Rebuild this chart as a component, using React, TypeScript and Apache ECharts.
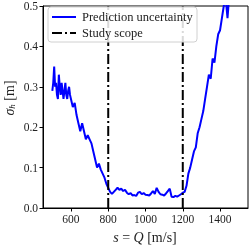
import React, { useEffect, useRef } from "react";
import * as echarts from "echarts";

const speeds = [
  500, 505, 510, 515, 520, 525, 530, 535, 540, 545,
  550, 555, 560, 565, 570, 575, 580, 585, 590, 595,
  600, 610, 620, 630, 640, 650, 660, 670, 680, 690,
  700, 710, 720, 730, 740, 750, 760, 770, 780, 790,
  800, 810, 820, 830, 840, 850, 860, 870, 880, 890,
  900, 910, 920, 930, 940, 950, 960, 970, 980, 990,
  1000, 1010, 1020, 1030, 1040, 1050, 1060, 1070, 1080, 1090,
  1100, 1110, 1120, 1130, 1140, 1150, 1160, 1170, 1180, 1190,
  1200, 1210, 1220, 1230, 1240, 1250, 1260, 1270, 1280, 1290,
  1300, 1310, 1320, 1330, 1340, 1350, 1360, 1370, 1380, 1390,
  1400, 1410, 1420, 1430, 1440, 1450, 1460, 1470, 1480, 1490, 1500,
];
const uncertainty = [
  0.29, 0.31, 0.35, 0.30, 0.31, 0.28, 0.27, 0.33, 0.30, 0.28,
  0.31, 0.29, 0.27, 0.29, 0.31, 0.28, 0.27, 0.29, 0.30, 0.28,
  0.27, 0.25, 0.26, 0.23, 0.21, 0.19, 0.21, 0.19, 0.17, 0.18,
  0.17, 0.16, 0.14, 0.12, 0.10, 0.11, 0.095, 0.085, 0.075, 0.06,
  0.05, 0.04, 0.035, 0.04, 0.045, 0.05, 0.045, 0.048, 0.042, 0.045,
  0.038, 0.034, 0.037, 0.031, 0.032, 0.03, 0.038, 0.04, 0.034, 0.037,
  0.033, 0.032, 0.031, 0.036, 0.042, 0.035, 0.05, 0.04, 0.034, 0.033,
  0.031, 0.036, 0.042, 0.048, 0.028, 0.027, 0.03, 0.028, 0.031, 0.034,
  0.038, 0.04, 0.055, 0.085, 0.10, 0.12, 0.14, 0.15, 0.185, 0.2,
  0.22, 0.24, 0.27, 0.3, 0.33, 0.32, 0.37, 0.36, 0.4, 0.43,
  0.44, 0.47, 0.5, 0.52, 0.47, 0.53, 0.57, 0.6, 0.62, 0.65, 0.68,
];
const scopeBounds = [800, 1200];
const xTicks = [600, 800, 1000, 1200, 1400];
const seriesNames = ["Prediction uncertainty", "Study scope"];

const FONT = "'Liberation Serif', 'DejaVu Serif', serif";

export default function App() {
  const ref = useRef<HTMLDivElement>(null);
  useEffect(() => {
    if (!ref.current) return;
    const chart = echarts.init(ref.current, null, { renderer: "svg" });
    const scopeSeries = scopeBounds.map((b) => ({
      name: seriesNames[1],
      type: "line",
      data: [
        [b, 0],
        [b, 0.5],
      ],
      symbol: "none",
      lineStyle: { color: "#000", width: 2, type: [10, 3, 2, 3] },
      z: 3,
    }));
    chart.setOption({
      animation: false,
      textStyle: { fontFamily: FONT },
      grid: {
        left: 43,
        right: 1,
        top: 4,
        bottom: 38,
        show: true,
        borderColor: "#000",
        borderWidth: 1,
        backgroundColor: "transparent",
      },
      xAxis: {
        type: "value",
        min: 450,
        max: 1550,
        axisLine: { show: true, lineStyle: { color: "#000", width: 1 } },
        axisTick: { show: true, length: 3.5, customValues: xTicks, lineStyle: { color: "#000" } },
        axisLabel: {
          customValues: xTicks,
          color: "#222",
          fontFamily: FONT,
          fontSize: 11.5,
          margin: 5,
          formatter: (v: number) => String(v),
        },
        splitLine: { show: false },
      },
      yAxis: {
        type: "value",
        min: 0,
        max: 0.5,
        interval: 0.1,
        axisLine: { show: true, lineStyle: { color: "#000", width: 1 } },
        axisTick: { show: true, length: 3.5, lineStyle: { color: "#000" } },
        axisLabel: {
          color: "#222",
          fontFamily: FONT,
          fontSize: 11.5,
          margin: 5,
          formatter: (v: number) => v.toFixed(1),
        },
        splitLine: { show: false },
      },
      series: [
        {
          name: seriesNames[0],
          type: "line",
          data: speeds.map((s, i) => [s, uncertainty[i]]),
          symbol: "none",
          clip: true,
          lineStyle: { color: "#0000ff", width: 2 },
          z: 2,
        },
        ...scopeSeries,
      ],
      graphic: [
        {
          type: "rect",
          shape: { x: 48, y: 7, width: 149, height: 35, r: 3 },
          style: { fill: "rgba(255,255,255,0.85)", stroke: "#d0d0d0", lineWidth: 1 },
          z: 100,
        },
        {
          type: "line",
          shape: { x1: 52, y1: 17, x2: 76, y2: 17 },
          style: { stroke: "#0000ff", lineWidth: 2 },
          z: 101,
        },
        {
          type: "line",
          shape: { x1: 52, y1: 33, x2: 76, y2: 33 },
          style: { stroke: "#000", lineWidth: 2, lineDash: [10, 3, 2, 3] },
          z: 101,
        },
        {
          type: "text",
          x: 82,
          y: 17,
          style: {
            text: seriesNames[0],
            fontFamily: FONT,
            fontSize: 12.5,
            fill: "#222",
            verticalAlign: "middle",
          },
          z: 101,
        },
        {
          type: "text",
          x: 82,
          y: 33,
          style: {
            text: seriesNames[1],
            fontFamily: FONT,
            fontSize: 12.5,
            fill: "#222",
            verticalAlign: "middle",
          },
          z: 101,
        },
        {
          type: "text",
          x: 145,
          y: 237,
          style: {
            text: "{i|s} = {i|Q} [m/s]",
            fontFamily: FONT,
            fontSize: 14,
            fill: "#222",
            align: "center",
            verticalAlign: "middle",
            rich: {
              i: { fontStyle: "italic", fontFamily: FONT, fontSize: 14 },
            },
          },
          z: 101,
        },
        {
          type: "text",
          x: 9,
          y: 98,
          rotation: Math.PI / 2,
          style: {
            text: "{i|σ}{s|h} [m]",
            fontFamily: FONT,
            fontSize: 14,
            fill: "#222",
            align: "center",
            verticalAlign: "middle",
            rich: {
              i: { fontStyle: "italic", fontFamily: FONT, fontSize: 14 },
              s: { fontStyle: "italic", fontFamily: FONT, fontSize: 9, padding: [5, 0, 0, 0] },
            },
          },
          z: 101,
        },
      ],
    });
    return () => chart.dispose();
  }, []);
  return (
    <div
      ref={ref}
      style={{ position: "fixed", left: 0, top: 0, width: 249, height: 246 }}
    />
  );
}
